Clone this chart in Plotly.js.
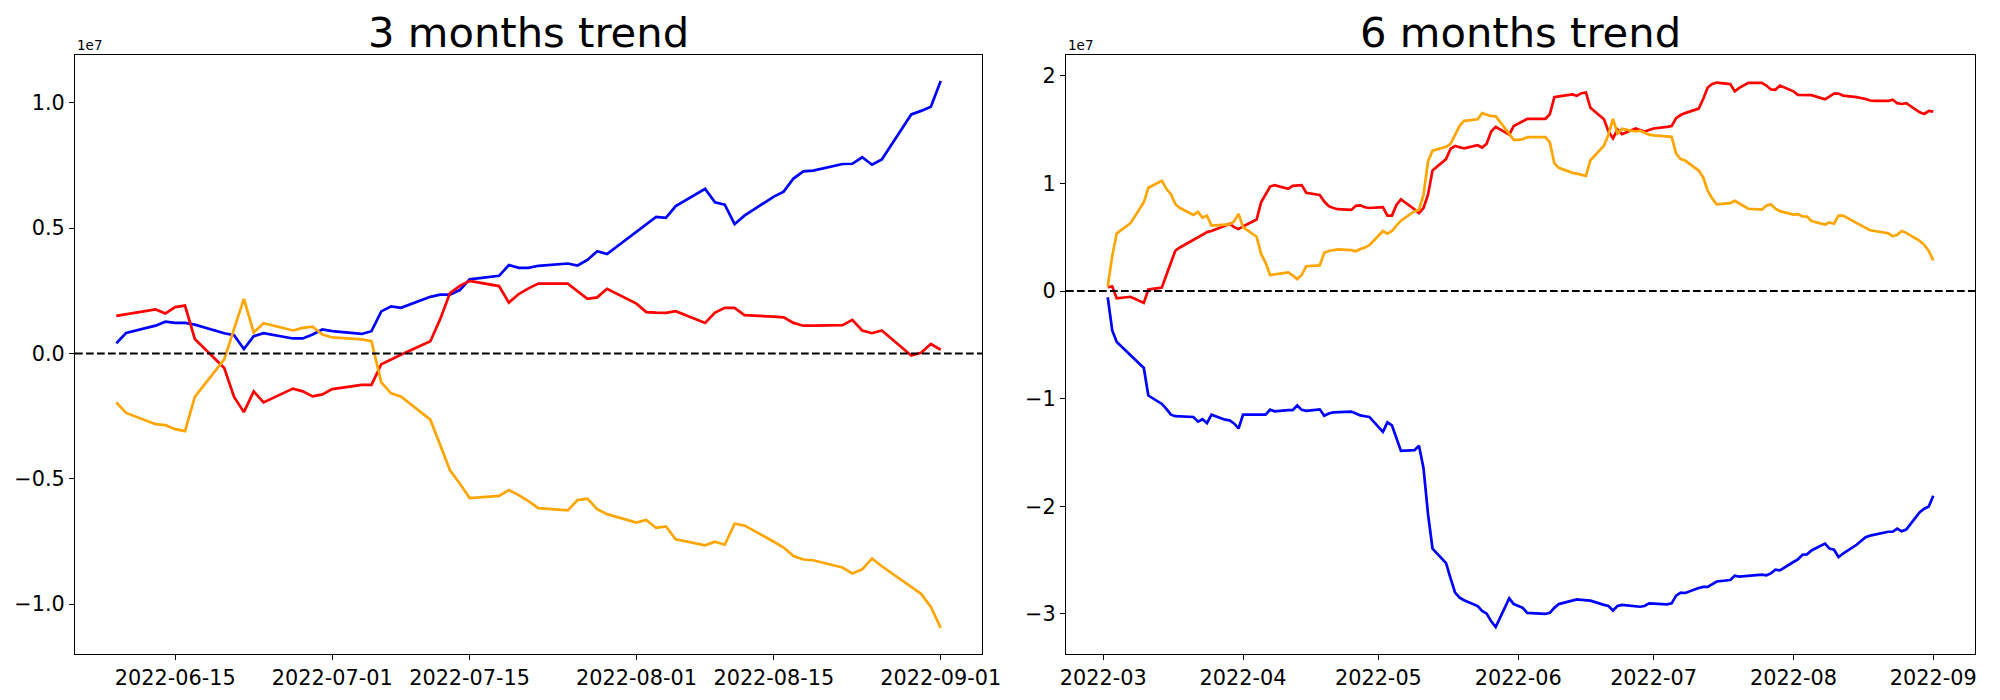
<!DOCTYPE html>
<html>
<head>
<meta charset="utf-8">
<script src="https://cdn.plot.ly/plotly-3.0.1.min.js"></script>
<style>
  html, body { margin: 0; padding: 0; background: #ffffff; }
  #chart { width: 2000px; height: 700px; }
</style>
</head>
<body>
<div id="chart"></div>
<script>
// ---------------- DATA (values in units of 1e7) ----------------
const dates3m = ["2022-06-09","2022-06-10","2022-06-13","2022-06-14","2022-06-15","2022-06-16","2022-06-17","2022-06-20","2022-06-21","2022-06-22","2022-06-23","2022-06-24","2022-06-27","2022-06-28","2022-06-29","2022-06-30","2022-07-01","2022-07-04","2022-07-05","2022-07-06","2022-07-07","2022-07-08","2022-07-11","2022-07-12","2022-07-13","2022-07-14","2022-07-15","2022-07-18","2022-07-19","2022-07-20","2022-07-21","2022-07-22","2022-07-25","2022-07-26","2022-07-27","2022-07-28","2022-07-29","2022-08-01","2022-08-02","2022-08-03","2022-08-04","2022-08-05","2022-08-08","2022-08-09","2022-08-10","2022-08-11","2022-08-12","2022-08-15","2022-08-16","2022-08-17","2022-08-18","2022-08-19","2022-08-22","2022-08-23","2022-08-24","2022-08-25","2022-08-26","2022-08-29","2022-08-30","2022-08-31","2022-09-01"];

const blue3m = [0.041,0.082,0.111,0.127,0.122,0.122,0.115,0.081,0.073,0.018,0.069,0.081,0.060,0.060,0.076,0.096,0.089,0.078,0.089,0.168,
  0.188,0.182,0.226,0.235,0.235,0.253,0.296,0.310,0.353,0.342,0.342,0.350,0.359,0.351,0.373,0.408,0.397,0.486,0.516,0.545,0.541,0.588,
  0.657,0.603,0.594,0.516,0.550,0.626,0.646,0.698,0.727,0.730,0.756,0.757,0.783,0.753,0.774,0.954,0.968,0.985,1.087];

const red3m = [0.150,0.157,0.176,0.160,0.185,0.191,0.058,-0.058,-0.173,-0.234,-0.151,-0.195,-0.140,-0.151,-0.171,-0.163,-0.142,-0.125,-0.125,-0.043,
  -0.023,-0.005,0.049,0.137,0.241,0.270,0.290,0.269,0.203,0.237,0.260,0.279,0.279,0.247,0.218,0.224,0.258,0.199,0.165,0.163,0.162,0.169,
  0.122,0.163,0.182,0.182,0.153,0.147,0.144,0.122,0.111,0.111,0.113,0.134,0.092,0.081,0.092,-0.008,0.003,0.038,0.015];

const orange3m = [-0.195,-0.237,-0.282,-0.286,-0.302,-0.310,-0.173,-0.023,0.098,0.218,0.084,0.121,0.092,0.102,0.107,0.076,0.064,0.056,0.049,-0.115,
  -0.159,-0.171,-0.264,-0.366,-0.466,-0.519,-0.577,-0.568,-0.545,-0.565,-0.589,-0.617,-0.626,-0.585,-0.579,-0.621,-0.641,-0.675,-0.664,-0.696,-0.690,-0.741,
  -0.765,-0.751,-0.763,-0.679,-0.686,-0.751,-0.774,-0.808,-0.822,-0.825,-0.854,-0.878,-0.861,-0.818,-0.849,-0.931,-0.959,-1.011,-1.095];

const dates6m = ["2022-03-02","2022-03-03","2022-03-04","2022-03-07","2022-03-08","2022-03-09","2022-03-10","2022-03-11","2022-03-14","2022-03-15","2022-03-16","2022-03-17","2022-03-18","2022-03-21","2022-03-22","2022-03-23","2022-03-24","2022-03-25","2022-03-28","2022-03-29","2022-03-30","2022-03-31",
  "2022-04-01","2022-04-04","2022-04-05","2022-04-06","2022-04-07","2022-04-08","2022-04-11","2022-04-12","2022-04-13","2022-04-14","2022-04-15","2022-04-18","2022-04-19","2022-04-20","2022-04-21","2022-04-22","2022-04-25","2022-04-26","2022-04-27","2022-04-28","2022-04-29",
  "2022-05-02","2022-05-03","2022-05-04","2022-05-05","2022-05-06","2022-05-09","2022-05-10","2022-05-11","2022-05-12","2022-05-13","2022-05-16","2022-05-17","2022-05-18","2022-05-19","2022-05-20","2022-05-23","2022-05-24","2022-05-25","2022-05-26","2022-05-27","2022-05-30","2022-05-31",
  "2022-06-01","2022-06-02","2022-06-03","2022-06-06","2022-06-07","2022-06-08","2022-06-09","2022-06-10","2022-06-13","2022-06-14","2022-06-15","2022-06-16","2022-06-17","2022-06-20","2022-06-21","2022-06-22","2022-06-23","2022-06-24","2022-06-27","2022-06-28","2022-06-29","2022-06-30",
  "2022-07-01","2022-07-04","2022-07-05","2022-07-06","2022-07-07","2022-07-08","2022-07-11","2022-07-12","2022-07-13","2022-07-14","2022-07-15","2022-07-18","2022-07-19","2022-07-20","2022-07-21","2022-07-22","2022-07-25","2022-07-26","2022-07-27","2022-07-28","2022-07-29",
  "2022-08-01","2022-08-02","2022-08-03","2022-08-04","2022-08-05","2022-08-08","2022-08-09","2022-08-10","2022-08-11","2022-08-12","2022-08-15","2022-08-16","2022-08-17","2022-08-18","2022-08-19","2022-08-22","2022-08-23","2022-08-24","2022-08-25","2022-08-26","2022-08-29","2022-08-30","2022-08-31",
  "2022-09-01"];

const blue6m = [-0.057,-0.366,-0.473,-0.590,-0.633,-0.672,-0.715,-0.971,-1.049,-1.095,-1.149,-1.163,-1.163,-1.170,-1.213,-1.191,-1.227,-1.149,-1.195,-1.202,-1.230,-1.277,
  -1.149,-1.149,-1.149,-1.149,-1.102,-1.117,-1.106,-1.106,-1.063,-1.104,-1.113,-1.099,-1.159,-1.138,-1.127,-1.124,-1.120,-1.138,-1.156,-1.163,-1.170,
  -1.309,-1.220,-1.248,-1.373,-1.486,-1.479,-1.437,-1.646,-2.073,-2.393,-2.528,-2.671,-2.802,-2.849,-2.873,-2.927,-2.973,-2.998,-3.069,-3.122,-2.856,-2.909,
  -2.927,-2.944,-2.991,-2.998,-3.001,-2.991,-2.944,-2.909,-2.877,-2.866,-2.870,-2.870,-2.877,-2.916,-2.927,-2.969,-2.927,-2.916,-2.934,-2.934,-2.927,-2.902,
  -2.905,-2.912,-2.902,-2.831,-2.802,-2.806,-2.760,-2.749,-2.749,-2.720,-2.699,-2.685,-2.646,-2.653,-2.649,-2.642,-2.635,-2.642,-2.624,-2.589,-2.596,
  -2.518,-2.493,-2.450,-2.447,-2.411,-2.347,-2.393,-2.404,-2.472,-2.440,-2.358,-2.323,-2.287,-2.273,-2.265,-2.237,-2.237,-2.208,-2.233,-2.216,-2.056,-2.023,-2.002,
  -1.902];

const red6m = [0.036,0.043,-0.068,-0.053,-0.071,-0.092,-0.110,0.014,0.032,0.149,0.263,0.377,0.405,0.473,0.494,0.523,0.548,0.558,0.608,0.626,0.594,0.576,
  0.601,0.665,0.825,0.896,0.971,0.985,0.950,0.978,0.978,0.985,0.914,0.893,0.832,0.789,0.772,0.761,0.754,0.793,0.797,0.779,0.772,
  0.779,0.701,0.701,0.800,0.853,0.761,0.725,0.772,0.896,1.120,1.227,1.323,1.348,1.337,1.326,1.355,1.334,1.369,1.483,1.526,1.454,1.533,
  1.554,1.572,1.600,1.600,1.600,1.643,1.803,1.810,1.828,1.814,1.839,1.846,1.703,1.597,1.483,1.419,1.501,1.458,1.511,1.497,1.483,1.497,
  1.511,1.526,1.533,1.607,1.636,1.654,1.696,1.785,1.892,1.924,1.938,1.924,1.856,1.888,1.910,1.935,1.935,1.910,1.874,1.871,1.910,
  1.856,1.824,1.821,1.821,1.821,1.782,1.810,1.835,1.835,1.817,1.803,1.796,1.785,1.771,1.767,1.767,1.778,1.746,1.739,1.746,1.661,1.646,1.675,
  1.668];

const orange6m = [0.043,0.327,0.537,0.629,0.693,0.761,0.825,0.960,1.024,0.950,0.900,0.807,0.772,0.708,0.736,0.683,0.701,0.608,0.615,0.619,0.647,0.718,
  0.594,0.505,0.345,0.263,0.149,0.156,0.174,0.146,0.110,0.150,0.231,0.238,0.356,0.373,0.381,0.388,0.381,0.370,0.391,0.405,0.427,
  0.558,0.533,0.558,0.608,0.654,0.743,0.754,0.896,1.206,1.305,1.341,1.369,1.458,1.536,1.582,1.597,1.654,1.636,1.625,1.625,1.465,1.405,
  1.405,1.412,1.430,1.430,1.430,1.383,1.188,1.145,1.099,1.092,1.081,1.070,1.216,1.351,1.455,1.600,1.465,1.508,1.483,1.490,1.472,1.454,
  1.447,1.440,1.433,1.277,1.227,1.213,1.120,1.056,0.932,0.861,0.807,0.818,0.839,0.814,0.786,0.765,0.757,0.793,0.807,0.765,0.743,
  0.711,0.715,0.693,0.693,0.651,0.619,0.637,0.626,0.701,0.701,0.637,0.612,0.587,0.565,0.558,0.537,0.509,0.523,0.558,0.541,0.466,0.430,0.373,
  0.284];

const xTicks3m = ["2022-06-15","2022-07-01","2022-07-15","2022-08-01","2022-08-15","2022-09-01"];
const xTickText3m = ["2022-06-15","2022-07-01","2022-07-15","2022-08-01","2022-08-15","2022-09-01"];
const xTicks6m = ["2022-03-01","2022-04-01","2022-05-01","2022-06-01","2022-07-01","2022-08-01","2022-09-01"];
const xTickText6m = ["2022-03","2022-04","2022-05","2022-06","2022-07","2022-08","2022-09"];
const yTicks3m = [-1.0,-0.5,0.0,0.5,1.0];
const yTickText3m = ["\u22121.0","\u22120.5","0.0","0.5","1.0"];
const yTicks6m = [-3,-2,-1,0,1,2];
const yTickText6m = ["\u22123","\u22122","\u22121","0","1","2"];

const titles = ["3 months trend","6 months trend"];
const offsetLabel = "1e7";
const colors = {blue: "#0000ff", red: "#ff0000", orange: "#ffa500"};

// ---------------- CHART ----------------
const FONT = "DejaVu Sans, Liberation Sans, sans-serif";
const LW = 2.7;

function line(x, y, color, xa, ya) {
  return {x: x, y: y, type: "scatter", mode: "lines", xaxis: xa, yaxis: ya,
    line: {color: color, width: LW}, hoverinfo: "skip", showlegend: false};
}

const traces = [
  line(dates3m, blue3m, colors.blue, "x", "y"),
  line(dates3m, red3m, colors.red, "x", "y"),
  line(dates3m, orange3m, colors.orange, "x", "y"),
  line(dates6m, blue6m, colors.blue, "x2", "y2"),
  line(dates6m, red6m, colors.red, "x2", "y2"),
  line(dates6m, orange6m, colors.orange, "x2", "y2")
];

const W = 2000, H = 700;
const mL = 75, mR = 25, mT = 55, mB = 46;
const plotW = W - mL - mR;
const dom1 = [0, (982 - mL) / plotW];
const dom2 = [(1066 - mL) / plotW, 1];

function xAxis(dom, range, tv, tt, anchor) {
  return {domain: dom, type: "date", range: range, anchor: anchor,
    tickmode: "array", tickvals: tv, ticktext: tt,
    ticks: "outside", ticklen: 5, tickwidth: 1.1, tickcolor: "#000",
    showgrid: false, zeroline: false, showline: true, mirror: true,
    linecolor: "#000", linewidth: 1.1,
    tickfont: {family: FONT, size: 20.8, color: "#000"}};
}
function yAxis(range, tv, tt, anchor) {
  return {domain: [0, 1], range: range, anchor: anchor,
    tickmode: "array", tickvals: tv, ticktext: tt,
    ticks: "outside", ticklen: 5, tickwidth: 1.1, tickcolor: "#000",
    showgrid: false, zeroline: false, showline: true, mirror: true,
    linecolor: "#000", linewidth: 1.1,
    tickfont: {family: FONT, size: 20.8, color: "#000"}};
}

const dash = {color: "#000", width: 2.1, dash: "7.7px,3.3px"};

const layout = {
  width: W, height: H,
  margin: {l: mL, r: mR, t: mT, b: mB, pad: 0},
  paper_bgcolor: "#fff", plot_bgcolor: "#fff",
  showlegend: false,
  xaxis: xAxis(dom1, ["2022-06-04 19:00", "2022-09-05 05:00"], xTicks3m, xTickText3m, "y"),
  yaxis: yAxis([-1.199, 1.191], yTicks3m, yTickText3m, "x"),
  xaxis2: xAxis(dom2, ["2022-02-20 18:00", "2022-09-10 06:00"], xTicks6m, xTickText6m, "y2"),
  yaxis2: yAxis([-3.373, 2.194], yTicks6m, yTickText6m, "x2"),
  shapes: [
    {type: "line", xref: "x domain", yref: "y", x0: 0, x1: 1, y0: 0, y1: 0, line: dash, layer: "above"},
    {type: "line", xref: "x2 domain", yref: "y2", x0: 0, x1: 1, y0: 0, y1: 0, line: dash, layer: "above"}
  ],
  annotations: [
    {text: titles[0], xref: "paper", yref: "paper", x: (dom1[0] + dom1[1]) / 2, y: 1,
      xanchor: "center", yanchor: "bottom", yshift: -4, showarrow: false,
      font: {family: FONT, size: 41.7, color: "#000"}},
    {text: titles[1], xref: "paper", yref: "paper", x: (dom2[0] + dom2[1]) / 2, y: 1,
      xanchor: "center", yanchor: "bottom", yshift: -4, showarrow: false,
      font: {family: FONT, size: 41.7, color: "#000"}},
    {text: offsetLabel, xref: "paper", yref: "paper", x: dom1[0], y: 1,
      xanchor: "left", yanchor: "bottom", yshift: 0, showarrow: false,
      font: {family: FONT, size: 13.5, color: "#000"}},
    {text: offsetLabel, xref: "paper", yref: "paper", x: dom2[0], y: 1,
      xanchor: "left", yanchor: "bottom", yshift: 0, showarrow: false,
      font: {family: FONT, size: 13.5, color: "#000"}}
  ]
};

// values are stored in units of 1e7; the tick labels and the "1e7" offset text
// reproduce matplotlib's scientific-notation axis.
Plotly.newPlot("chart", traces, layout, {staticPlot: true, displayModeBar: false});
</script>
</body>
</html>
